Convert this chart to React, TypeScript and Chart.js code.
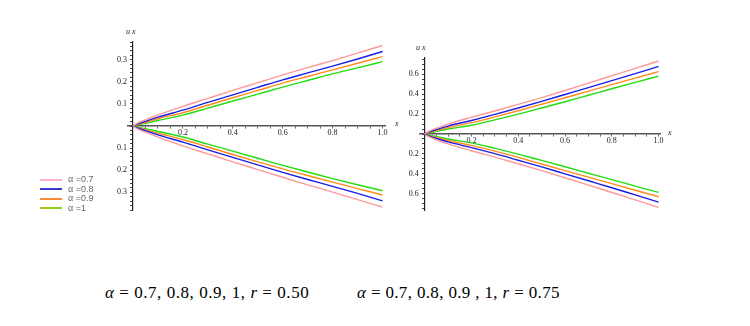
import React, { useEffect, useRef } from 'react';
import { Chart, registerables } from 'chart.js';

Chart.register(...registerables);

// ---------- data ----------
const xValues = [0, 0.02, 0.05, 0.1, 0.2, 0.3, 0.4, 0.5, 0.6, 0.7, 0.8, 0.9, 1.0];
const alphaLabels = ['α =0.7', 'α =0.8', 'α =0.9', 'α =1'];

// r = 0.50 (left plot)
const leftUpperA07 = [0, 0.014, 0.028, 0.050, 0.089, 0.125, 0.161, 0.196, 0.231, 0.264, 0.296, 0.330, 0.364];
const leftUpperA08 = [0, 0.010, 0.021, 0.040, 0.072, 0.107, 0.141, 0.175, 0.209, 0.240, 0.271, 0.303, 0.337];
const leftUpperA09 = [0, 0.008, 0.017, 0.033, 0.060, 0.094, 0.128, 0.161, 0.194, 0.224, 0.254, 0.284, 0.314];
const leftUpperA10 = [0, 0.005, 0.012, 0.025, 0.049, 0.081, 0.113, 0.144, 0.176, 0.206, 0.236, 0.263, 0.291];
const leftLowerA07 = [0, -0.014, -0.028, -0.050, -0.090, -0.126, -0.162, -0.197, -0.232, -0.266, -0.299, -0.333, -0.367];
const leftLowerA08 = [0, -0.010, -0.021, -0.040, -0.073, -0.108, -0.142, -0.176, -0.210, -0.242, -0.273, -0.305, -0.339];
const leftLowerA09 = [0, -0.008, -0.017, -0.033, -0.061, -0.095, -0.129, -0.162, -0.194, -0.224, -0.254, -0.283, -0.312];
const leftLowerA10 = [0, -0.005, -0.012, -0.025, -0.050, -0.082, -0.114, -0.146, -0.178, -0.208, -0.238, -0.266, -0.293];

// r = 0.75 (right plot)
const rightUpperA07 = [0, 0.030, 0.058, 0.100, 0.168, 0.232, 0.298, 0.366, 0.438, 0.512, 0.586, 0.660, 0.735];
const rightUpperA08 = [0, 0.022, 0.045, 0.080, 0.136, 0.197, 0.262, 0.329, 0.398, 0.467, 0.537, 0.608, 0.680];
const rightUpperA09 = [0, 0.017, 0.036, 0.065, 0.114, 0.172, 0.234, 0.299, 0.365, 0.431, 0.497, 0.563, 0.628];
const rightUpperA10 = [0, 0.012, 0.027, 0.050, 0.088, 0.142, 0.200, 0.262, 0.325, 0.390, 0.455, 0.519, 0.582];
const rightLowerA07 = [0, -0.030, -0.058, -0.100, -0.169, -0.233, -0.299, -0.368, -0.440, -0.514, -0.589, -0.663, -0.738];
const rightLowerA08 = [0, -0.022, -0.045, -0.080, -0.137, -0.198, -0.264, -0.331, -0.401, -0.471, -0.541, -0.613, -0.685];
const rightLowerA09 = [0, -0.017, -0.036, -0.065, -0.115, -0.173, -0.236, -0.302, -0.368, -0.434, -0.500, -0.566, -0.632];
const rightLowerA10 = [0, -0.012, -0.027, -0.050, -0.089, -0.144, -0.203, -0.266, -0.330, -0.395, -0.460, -0.524, -0.588];

const xTickLabels = ['0.2', '0.4', '0.6', '0.8', '1.0'];
const leftYTickLabels = ['0.1', '0.2', '0.3'];
const rightYTickLabels = ['0.2', '0.4', '0.6'];

const lineColors = ['#ff9999', '#1c1ce8', '#ff8c1a', '#22dd11'];
const legendColors = ['#ffb3cc', '#3a3ad2', '#ff8833', '#99cc22'];

const tickFont = { family: 'Liberation Serif', size: 8 };

function near(v: number, step: number) {
  return Math.abs(v / step - Math.round(v / step)) < 1e-4;
}

function makeConfig(
  uppers: number[][],
  lowers: number[][],
  yMax: number,
  yStep: number,
  yMajor: number,
  yLabels: string[],
  xMin: number,
  xMax: number,
  pad: { left: number; right: number; top: number; bottom: number }
): any {
  const datasets: any[] = [];
  const addSet = (arr: number[], i: number, suffix: string) => {
    datasets.push({
      label: alphaLabels[i] + suffix,
      data: xValues.map((x, k) => ({ x, y: arr[k] })),
      borderColor: lineColors[i],
      borderWidth: 1.4,
      pointRadius: 0,
      cubicInterpolationMode: 'monotone',
      fill: false,
    });
  };
  uppers.forEach((arr, i) => addSet(arr, i, ''));
  lowers.forEach((arr, i) => addSet(arr, i, ' lower'));
  return {
    type: 'line',
    data: { datasets },
    options: {
      responsive: false,
      animation: false,
      layout: { padding: pad },
      plugins: { legend: { display: false }, tooltip: { enabled: false } },
      scales: {
        x: {
          type: 'linear',
          min: xMin,
          max: xMax,
          position: { y: 0 },
          afterFit: (s: any) => { s.height = 0; },
          grid: { display: true, drawOnChartArea: false, drawTicks: true, tickLength: 2, color: '#666' },
          border: { display: true, color: '#555', width: 1.6 },
          ticks: {
            stepSize: 0.05,
            includeBounds: false,
            autoSkip: false,
            maxRotation: 0,
            padding: 0,
            color: '#222',
            font: tickFont,
            callback: (v: number) => {
              if (v > 0.01 && near(v, 0.2)) {
                const idx = Math.round(v / 0.2) - 1;
                return xTickLabels[idx] ?? '';
              }
              return '';
            },
          },
        },
        y: {
          type: 'linear',
          min: -yMax,
          max: yMax,
          position: { x: 0 },
          afterFit: (s: any) => { s.width = 0; },
          grid: { display: true, drawOnChartArea: false, drawTicks: true, tickLength: 2, color: '#444' },
          border: { display: true, color: '#222', width: 1.2 },
          ticks: {
            stepSize: yStep,
            includeBounds: false,
            autoSkip: false,
            padding: 2,
            color: '#222',
            font: tickFont,
            callback: (v: number) => {
              if (Math.abs(v) > 1e-6 && near(v, yMajor)) {
                const idx = Math.round(Math.abs(v) / yMajor) - 1;
                const lab = yLabels[idx];
                return lab ? lab + '   ' : '';
              }
              return '';
            },
          },
        },
      },
    },
  };
}

function PlotCanvas(props: { config: () => any; left: number; top: number; width: number; height: number }) {
  const ref = useRef<HTMLCanvasElement | null>(null);
  useEffect(() => {
    if (!ref.current) return;
    const chart = new Chart(ref.current, props.config());
    return () => chart.destroy();
  }, []);
  return (
    <canvas
      ref={ref}
      width={props.width}
      height={props.height}
      style={{ position: 'absolute', left: props.left, top: props.top, width: props.width, height: props.height }}
    />
  );
}

const smallItalic: React.CSSProperties = {
  position: 'absolute',
  fontFamily: 'Liberation Serif',
  fontStyle: 'italic',
  fontSize: 8,
  color: '#222',
  lineHeight: '8px',
  whiteSpace: 'nowrap',
};

const captionStyle: React.CSSProperties = {
  position: 'absolute',
  top: 284,
  fontFamily: 'Liberation Serif',
  fontSize: 17,
  lineHeight: '17px',
  letterSpacing: '0.55px',
  color: '#000',
  whiteSpace: 'nowrap',
};

export default function App() {
  useEffect(() => {
    document.body.style.margin = '0';
  }, []);

  const leftConfig = () =>
    makeConfig(
      [leftUpperA07, leftUpperA08, leftUpperA09, leftUpperA10],
      [leftLowerA07, leftLowerA08, leftLowerA09, leftLowerA10],
      0.38, 0.02, 0.1, leftYTickLabels, -0.02, 1.01,
      { left: 28, right: 25, top: 22, bottom: 10 }
    );
  const rightConfig = () =>
    makeConfig(
      [rightUpperA07, rightUpperA08, rightUpperA09, rightUpperA10],
      [rightLowerA07, rightLowerA08, rightLowerA09, rightLowerA10],
      0.765, 0.05, 0.2, rightYTickLabels, -0.02, 1.006,
      { left: 25, right: 25, top: 18, bottom: 10 }
    );

  return (
    <div style={{ position: 'fixed', left: 0, top: 0, width: 750, height: 326, background: '#fff', overflow: 'hidden' }}>
      <PlotCanvas config={leftConfig} left={100} top={20} width={310} height={200} />
      <PlotCanvas config={rightConfig} left={395} top={40} width={290} height={180} />

      <span style={{ ...smallItalic, left: 126, top: 28 }}>u x</span>
      <span style={{ ...smallItalic, left: 395, top: 120 }}>x</span>
      <span style={{ ...smallItalic, left: 416, top: 44 }}>u x</span>
      <span style={{ ...smallItalic, left: 668, top: 129 }}>x</span>

      {alphaLabels.map((lab, i) => (
        <div key={lab} style={{ position: 'absolute', left: 40, top: 175 + i * 9.5, height: 9, width: 80 }}>
          <div style={{ position: 'absolute', left: 0, top: 3.5, width: 22, height: 2, background: legendColors[i] }} />
          <span
            style={{
              position: 'absolute',
              left: 28,
              top: 0,
              fontFamily: 'Liberation Sans',
              fontSize: 9,
              lineHeight: '9px',
              color: '#666',
              whiteSpace: 'nowrap',
            }}
          >
            {lab}
          </span>
        </div>
      ))}

      <div style={{ ...captionStyle, left: 105 }}>
        <i>α</i> = 0.7, 0.8, 0.9, 1, <i>r</i> = 0.50
      </div>
      <div style={{ ...captionStyle, left: 357, letterSpacing: '0.35px' }}>
        <i>α</i> = 0.7, 0.8, 0.9 , 1, <i>r</i> = 0.75
      </div>
    </div>
  );
}
